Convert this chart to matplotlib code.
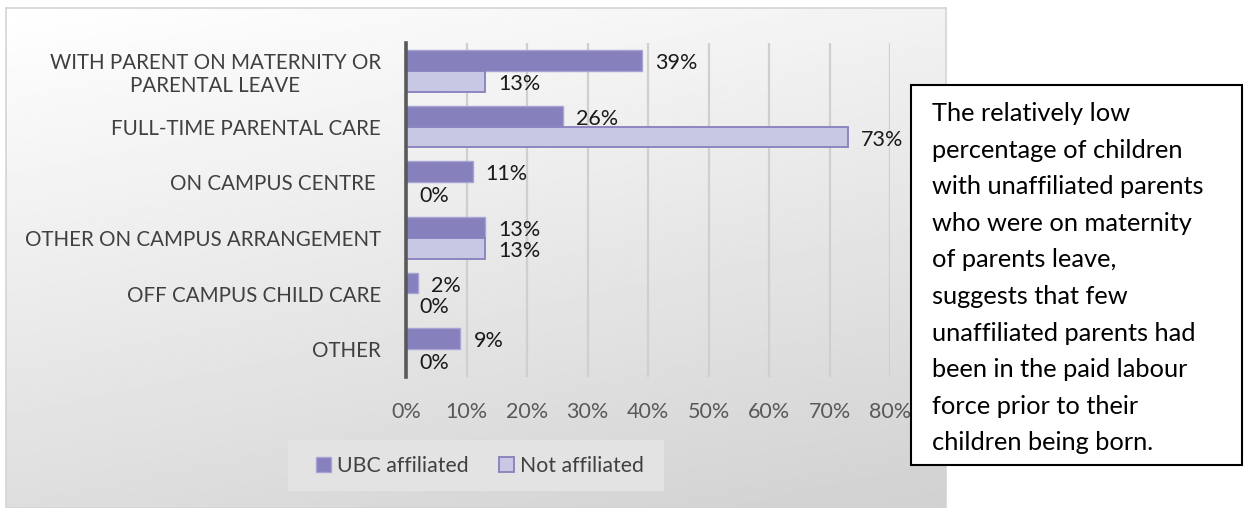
import matplotlib
matplotlib.use("Agg")
import matplotlib.pyplot as plt
import numpy as np
from matplotlib.patches import Rectangle

plt.rcParams["font.family"] = ["Lato", "DejaVu Sans"]

# ---- data -------------------------------------------------------------
categories = [
    "WITH PARENT ON MATERNITY OR\nPARENTAL LEAVE",
    "FULL-TIME PARENTAL CARE",
    "ON CAMPUS CENTRE ",
    "OTHER ON CAMPUS ARRANGEMENT",
    "OFF CAMPUS CHILD CARE",
    "OTHER",
]
ubc_affiliated = [39, 26, 11, 13, 2, 9]
not_affiliated = [13, 73, 0, 13, 0, 0]
series_names = ["UBC affiliated", "Not affiliated"]
x_ticks = [0, 10, 20, 30, 40, 50, 60, 70, 80]
note_lines = [
    "The relatively low",
    "percentage of children",
    "with unaffiliated parents",
    "who were on maternity",
    "of parents leave,",
    "suggests that few",
    "unaffiliated parents had",
    "been in the paid labour",
    "force prior to their",
    "children being born.",
]

# ---- styling ----------------------------------------------------------
W, H = 1244, 508
UBC_FILL, UBC_EDGE = "#8680BC", "#A7A3D4"
NOT_FILL, NOT_EDGE = "#C9C8E4", "#8680BC"


def fx(px):
    return px / W


def fy(py):
    return 1 - py / H


fig = plt.figure(figsize=(W / 100, H / 100), dpi=100)
fig.patch.set_facecolor("white")

# chart area with a soft diagonal grey gradient
bg = fig.add_axes([fx(6), 0, fx(946) - fx(6), 1 - 8 / H])
gx, gy = np.meshgrid(np.linspace(0, 1, 300), np.linspace(0, 1, 200))
shade = 1 - 0.18 * (0.72 * gy + 0.28 * gx)
bg.imshow(shade, cmap="gray", vmin=0, vmax=1, aspect="auto",
          extent=(0, 1, 1, 0), interpolation="bilinear")
bg.set_xticks([])
bg.set_yticks([])
for s in bg.spines.values():
    s.set_color("#D4D4D4")
    s.set_linewidth(1.2)

# main bar axes
ax = fig.add_axes([fx(406), fy(377), fx(890) - fx(406), (377 - 43) / H])
ax.set_facecolor("none")

y = np.arange(len(categories))
bar_h = 0.37
off = 0.19
ax.barh(y - off, ubc_affiliated, height=bar_h, color=UBC_FILL,
        edgecolor=UBC_EDGE, linewidth=1.0, zorder=2)
ax.barh(y + off, not_affiliated, height=bar_h, color=NOT_FILL,
        edgecolor=NOT_EDGE, linewidth=1.3, zorder=2)

for vals, dy in ((ubc_affiliated, -off), (not_affiliated, off)):
    for yi, v in zip(y, vals):
        ax.annotate(f"{v}%", xy=(v, yi + dy), xytext=(9.5, -2),
                    textcoords="offset points", ha="left", va="center",
                    fontsize=15.5, color="#1A1A1A", zorder=4)

ax.set_xlim(0, 80)
ax.set_ylim(len(categories) - 0.5, -0.5)
ax.set_xticks(x_ticks)
ax.set_xticklabels([f"{t}%" for t in x_ticks])
ax.set_yticks(y)
ax.set_yticklabels(categories)
for lbl in ax.get_yticklabels():
    lbl.set_multialignment("center")
ax.tick_params(axis="x", length=0, pad=18, labelsize=15.5, labelcolor="#595959")
ax.tick_params(axis="y", length=0, pad=18, labelsize=14.8, labelcolor="#404040")
ax.set_axisbelow(True)
ax.xaxis.grid(True, color="#CFCFCF", linewidth=1.6)
ax.yaxis.grid(False)
for side in ("top", "right", "bottom"):
    ax.spines[side].set_visible(False)
ax.spines["left"].set_color("#595959")
ax.spines["left"].set_linewidth(2.6)
ax.spines["left"].set_zorder(3)

# legend on its own lighter band
fig.patches.append(Rectangle((fx(288), fy(491)), fx(664) - fx(288), (491 - 440) / H,
                             transform=fig.transFigure, facecolor="#E3E3E3",
                             edgecolor="none", zorder=1))
handles = [Rectangle((0, 0), 1, 1, facecolor=UBC_FILL, edgecolor=UBC_EDGE, linewidth=1.0),
           Rectangle((0, 0), 1, 1, facecolor=NOT_FILL, edgecolor=NOT_EDGE, linewidth=1.3)]
leg = fig.legend(handles, series_names, loc="center", bbox_to_anchor=(fx(480), fy(466)),
                 ncol=2, frameon=False, fontsize=15.3, handlelength=0.7,
                 handleheight=0.7, handletextpad=0.3, columnspacing=1.4)
for t in leg.get_texts():
    t.set_color("#404040")

# note box to the right
box = Rectangle((fx(911), fy(465)), fx(1242) - fx(911), (465 - 85) / H,
                transform=fig.transFigure, facecolor="white", edgecolor="black",
                linewidth=1.5, zorder=2)
fig.patches.append(box)
for i, line in enumerate(note_lines):
    t = fig.text(fx(932), fy(121 + 36.6 * i), line, ha="left", va="baseline",
                 fontsize=18.3, color="black", zorder=3)
    t.set_clip_path(box)

fig.savefig("out.png", dpi=100)
